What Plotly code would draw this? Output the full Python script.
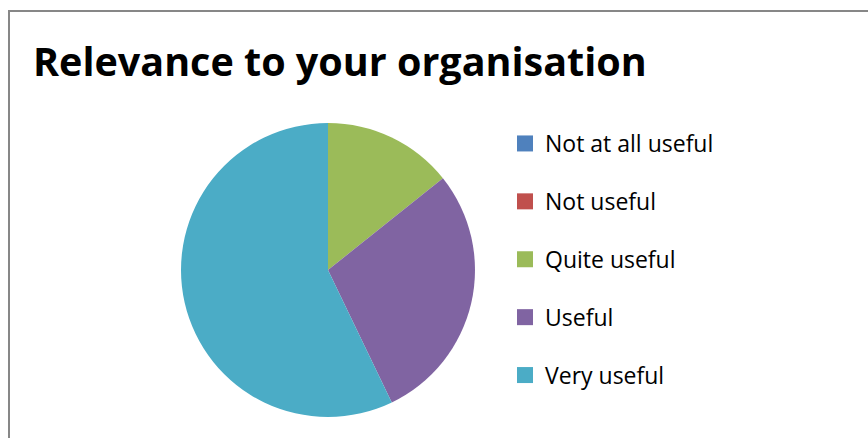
import plotly.graph_objects as go

categories = ["Not at all useful", "Not useful", "Quite useful", "Useful", "Very useful"]
values = [0, 0, 1, 2, 4]
colors = ["#4F81BD", "#C0504D", "#9BBB59", "#8064A2", "#4BACC6"]
title_text = "Relevance to your organisation"

W, H = 868, 438
cx, cy, r = 328, 270, 147

fig = go.Figure()
fig.add_trace(go.Pie(
    labels=categories, values=values, sort=False, direction="clockwise", rotation=0,
    marker=dict(colors=colors, line=dict(width=0)),
    textinfo="none", hoverinfo="label+value", showlegend=False,
    domain=dict(x=[(cx - r) / W, (cx + r) / W], y=[1 - (cy + r) / H, 1 - (cy - r) / H]),
))
for i, (cat, col) in enumerate(zip(categories, colors)):
    fig.add_trace(go.Scatter(
        x=[None], y=[None], mode="markers", name=cat,
        marker=dict(symbol="square", size=16, color=col),
        legendgroup=f"g{i}", showlegend=True,
    ))

fig.update_layout(
    width=W, height=H,
    margin=dict(l=0, r=0, t=0, b=0),
    paper_bgcolor="white", plot_bgcolor="white",
    xaxis=dict(visible=False), yaxis=dict(visible=False),
    title=dict(text=title_text, x=33 / W, xanchor="left", xref="paper",
               y=1 - 62 / H, yanchor="middle", yref="paper",
               font=dict(family="Open Sans", size=39.5, color="black", weight="bold")),
    legend=dict(x=505 / W, xanchor="left", y=1 - 122 / H, yanchor="top",
                font=dict(family="Open Sans", size=23, color="black"),
                tracegroupgap=25, bgcolor="rgba(0,0,0,0)"),
    shapes=[dict(type="rect", xref="paper", yref="paper",
                 x0=9 / W, x1=1.2, y0=-0.2, y1=1 - 11 / H,
                 line=dict(color="#878787", width=2))],
)
fig.write_html("out.html", config={"displayModeBar": False},
               post_script="document.body.style.margin='0';document.body.style.overflow='hidden';")
